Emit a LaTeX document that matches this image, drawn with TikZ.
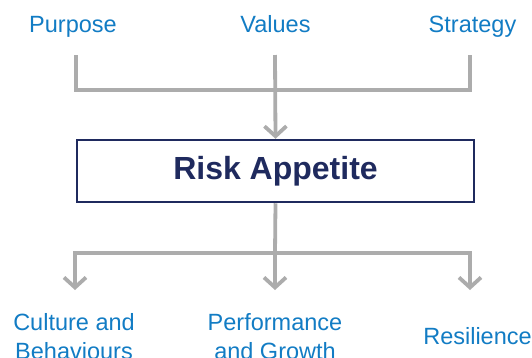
\documentclass[tikz,border=0pt]{standalone}
\usepackage{fontspec}
\setmainfont{Liberation Sans}
\usetikzlibrary{arrows.meta}
\definecolor{lblblue}{RGB}{18,124,196}
\definecolor{lngray}{RGB}{172,172,172}
\definecolor{navy}{RGB}{31,42,94}
\tikzset{
  lbl/.style={text=lblblue, font=\fontsize{23.5}{29}\selectfont, inner sep=0pt, anchor=base, align=center},
  conn/.style={draw=lngray, line width=3.8pt, line join=miter},
  tip/.style={-{Straight Barb[length=10pt 0 0,width=22pt 0 0,line width=3.8pt]}},
  riskbox/.style={draw=navy, line width=2.5pt, text=navy, minimum width=397pt, minimum height=62pt, inner sep=0pt, font=\fontsize{32}{36}\selectfont\bfseries}
}
\begin{document}
\begin{tikzpicture}[x=1pt,y=-1pt]
\useasboundingbox (0,0) rectangle (532,357);
% top labels
\node[lbl] (purpose) at (73,32) {Purpose};
\node[lbl] (values) at (275.5,32) {Values};
\node[lbl] (strategy) at (472.5,32) {Strategy};
% box
\node[riskbox] (risk) at (275.5,171) {Risk Appetite};
% bottom labels (base = last line baseline)
\node[lbl] (culture) at (74,359) {Culture and\\Behaviours};
\node[lbl] (perf) at (275,359) {Performance\\and Growth};
\node[lbl] (resil) at (477.5,344) {Resilience};
% connector points
\coordinate (pt) at (76,55);
\coordinate (vt) at (275,55);
\coordinate (st) at (470,55);
\coordinate (jt) at (275,90);
\coordinate (jb) at (275,253);
\coordinate (ca) at (75,290);
\coordinate (pa) at (275,290);
\coordinate (ra) at (470,290);
% top connectors
\draw[conn] (pt) |- (jt) -| (st);
\draw[conn,tip] (vt) -- (risk.north);
% bottom connectors
\draw[conn] (risk.south) -- (jb);
\draw[conn,tip] (jb) -| (ca);
\draw[conn,tip] (jb) -- (pa);
\draw[conn,tip] (jb) -| (ra);
\end{tikzpicture}
\end{document}
